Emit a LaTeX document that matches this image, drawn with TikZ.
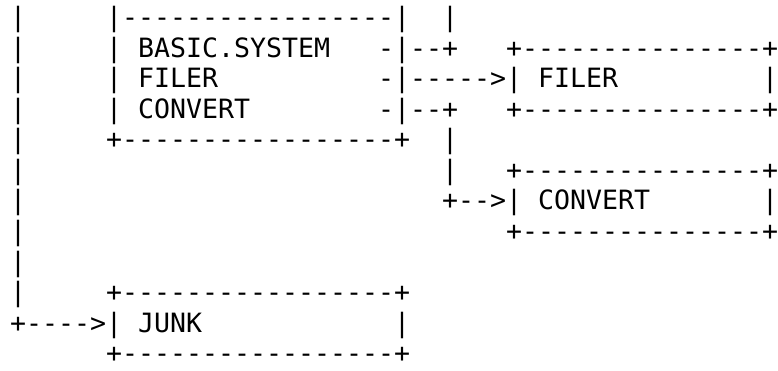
\documentclass[tikz,border=0pt]{standalone}
\usepackage{fontspec}
\setmonofont{DejaVu Sans Mono}
\ExplSyntaxOn
\NewDocumentCommand\Rep{mm}{\prg_replicate:nn{#1}{#2}}
\ExplSyntaxOff
\newcommand\Sp[1]{\Rep{#1}{\ }}
\newcommand\Dh[1]{\Rep{#1}{-}}
\begin{document}
\begin{tikzpicture}[x=1pt,y=1pt,
  asciiline/.style={anchor=base west,inner sep=0pt,outer sep=0pt,
    font=\ttfamily\fontsize{26.58pt}{31pt}\selectfont\frenchspacing}]
\useasboundingbox[fill=white] (0,0) rectangle (778,-371);
\def\pitch{30.5}
\def\top{27}
\node[asciiline] (r0) at (10,{-\top-0*\pitch}) {|\Sp{5}|\Dh{17}|\Sp{2}|};
\node[asciiline] (r1) at (10,{-\top-1*\pitch}) {|\Sp{5}|\Sp{1}BASIC.SYSTEM\Sp{3}-|--+\Sp{3}+\Dh{15}+};
\node[asciiline] (r2) at (10,{-\top-2*\pitch}) {|\Sp{5}|\Sp{1}FILER\Sp{10}-|\Dh{5}>|\Sp{1}FILER\Sp{9}|};
\node[asciiline] (r3) at (10,{-\top-3*\pitch}) {|\Sp{5}|\Sp{1}CONVERT\Sp{8}-|--+\Sp{3}+\Dh{15}+};
\node[asciiline] (r4) at (10,{-\top-4*\pitch}) {|\Sp{5}+\Dh{17}+\Sp{2}|};
\node[asciiline] (r5) at (10,{-\top-5*\pitch}) {|\Sp{26}|\Sp{3}+\Dh{15}+};
\node[asciiline] (r6) at (10,{-\top-6*\pitch}) {|\Sp{26}+-->|\Sp{1}CONVERT\Sp{7}|};
\node[asciiline] (r7) at (10,{-\top-7*\pitch}) {|\Sp{30}+\Dh{15}+};
\node[asciiline] (r8) at (10,{-\top-8*\pitch}) {|};
\node[asciiline] (r9) at (10,{-\top-9*\pitch}) {|\Sp{5}+\Dh{17}+};
\node[asciiline] (r10) at (10,{-\top-10*\pitch}) {+\Dh{4}>|\Sp{1}JUNK\Sp{12}|};
\node[asciiline] (r11) at (10,{-\top-11*\pitch}) {\Sp{6}+\Dh{17}+};
\end{tikzpicture}
\end{document}
